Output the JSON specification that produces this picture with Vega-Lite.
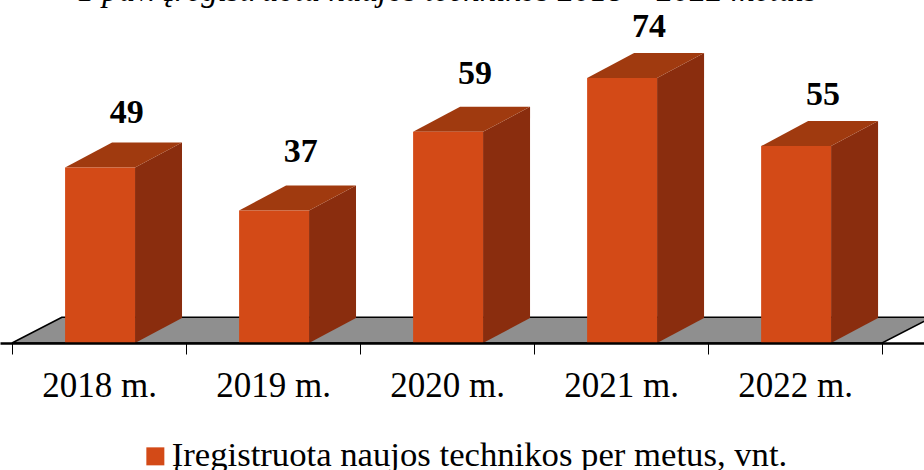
{
  "$schema": "https://vega.github.io/schema/vega-lite/v6.json",
  "width": 924,
  "height": 343,
  "autosize": "none",
  "padding": {"left": 0, "right": 0, "top": 0, "bottom": 127},
  "background": "white",
  "view": {"stroke": null},
  "data": {"values": [
    {"year": 2018, "value": 49},
    {"year": 2019, "value": 37},
    {"year": 2020, "value": 59},
    {"year": 2021, "value": 74},
    {"year": 2022, "value": 55}
  ]},
  "transform": [
    {"calculate": "datum.year + 0.305", "as": "left"},
    {"calculate": "datum.year + 0.707", "as": "right"},
    {"calculate": "datum.year + 0.66", "as": "mid"},
    {"calculate": "datum.value + 7 + (datum.year == 2018 ? 1 : datum.year == 2019 || datum.year == 2020 ? 2 : 0)", "as": "labelAt"},
    {"calculate": "'Įregistruota naujos technikos per metus, vnt.'", "as": "series"}
  ],
  "layer": [
    {
      "data": {"values": [{"t": 0}, {"t": 1}]},
      "transform": [
        {"calculate": "2018 + datum.t * 0.287", "as": "xa"},
        {"calculate": "2023 + datum.t * 0.287", "as": "xb"},
        {"calculate": "datum.t * 7.2", "as": "yv"}
      ],
      "mark": {"type": "area", "orient": "horizontal", "fill": "#8f8f8f", "stroke": "black", "strokeWidth": 1.5, "clip": false},
      "encoding": {
        "y": {"field": "yv", "type": "quantitative", "scale": {"domain": [0, 95.81], "nice": false, "zero": false}, "axis": null},
        "x": {"field": "xa", "type": "quantitative", "scale": {"domain": [2017.931, 2023.241], "nice": false, "zero": false},
          "axis": {"title": null, "grid": false, "values": [2018, 2018.5, 2019, 2019.5, 2020, 2020.5, 2021, 2021.5, 2022, 2022.5, 2023],
            "labelExpr": "datum.value % 1 ? floor(datum.value) + ' m.' : ''",
            "labelFont": "Liberation Serif", "labelFontSize": 35, "labelColor": "black", "labelFlush": false, "labelOverlap": false, "labelBound": false, "labelPadding": 14,
            "tickColor": "black", "tickWidth": 1, "tickSize": 11,
            "tickOpacity": {"condition": {"test": "datum.value % 1 !== 0", "value": 0}, "value": 1},
            "domainColor": "black", "domainWidth": 2.5, "zindex": 1}},
        "x2": {"field": "xb"}
      }
    },
    {
      "transform": [
        {"calculate": "[0, 1]", "as": "t"},
        {"flatten": ["t"]},
        {"calculate": "datum.right + datum.t * 0.27", "as": "sx"},
        {"calculate": "datum.t * 7", "as": "sy"},
        {"calculate": "datum.value + datum.t * 7", "as": "sy2"}
      ],
      "mark": {"type": "area", "orient": "vertical", "fill": "#8a2d0e", "clip": false},
      "encoding": {
        "detail": {"field": "year"},
        "x": {"field": "sx", "type": "quantitative"},
        "y": {"field": "sy", "type": "quantitative"},
        "y2": {"field": "sy2"}
      }
    },
    {
      "transform": [
        {"calculate": "[0, 1]", "as": "t"},
        {"flatten": ["t"]},
        {"calculate": "datum.left + datum.t * 0.27", "as": "tx"},
        {"calculate": "datum.right + datum.t * 0.27", "as": "tx2"},
        {"calculate": "datum.value + datum.t * 7", "as": "ty"}
      ],
      "mark": {"type": "area", "orient": "horizontal", "fill": "#a03a0f", "clip": false},
      "encoding": {
        "detail": {"field": "year"},
        "x": {"field": "tx", "type": "quantitative"},
        "x2": {"field": "tx2"},
        "y": {"field": "ty", "type": "quantitative"}
      }
    },
    {
      "mark": {"type": "bar", "clip": false},
      "encoding": {
        "x": {"field": "left", "type": "quantitative"},
        "x2": {"field": "right"},
        "y": {"field": "value", "type": "quantitative"},
        "y2": {"datum": 0},
        "color": {"field": "series", "type": "nominal", "scale": {"range": ["#d34a17"]},
          "legend": {"title": null, "orient": "none", "legendX": 138, "legendY": 439, "symbolType": "square", "symbolSize": 324, "symbolStrokeWidth": 0, "labelFont": "Liberation Serif", "labelFontSize": 34.7, "labelColor": "black", "labelLimit": 800, "padding": 0, "labelOffset": -1}}
      }
    },
    {
      "mark": {"type": "text", "font": "Liberation Serif", "fontWeight": "bold", "fontSize": 34, "color": "black", "baseline": "alphabetic", "align": "center", "dy": -16, "clip": false},
      "encoding": {
        "x": {"field": "mid", "type": "quantitative"},
        "y": {"field": "labelAt", "type": "quantitative"},
        "text": {"field": "value", "type": "quantitative"}
      }
    },
    {
      "data": {"values": [{"caption": "1 pav. Įregistruota naujos technikos 2018 – 2022 metais"}]},
      "mark": {"type": "text", "font": "Liberation Serif", "fontStyle": "italic", "fontSize": 33, "color": "black", "baseline": "alphabetic", "align": "left", "dx": 8, "dy": 0.5, "clip": false},
      "encoding": {
        "x": {"datum": 2018.33},
        "y": {"datum": 95.81},
        "text": {"field": "caption"}
      }
    }
  ]
}
